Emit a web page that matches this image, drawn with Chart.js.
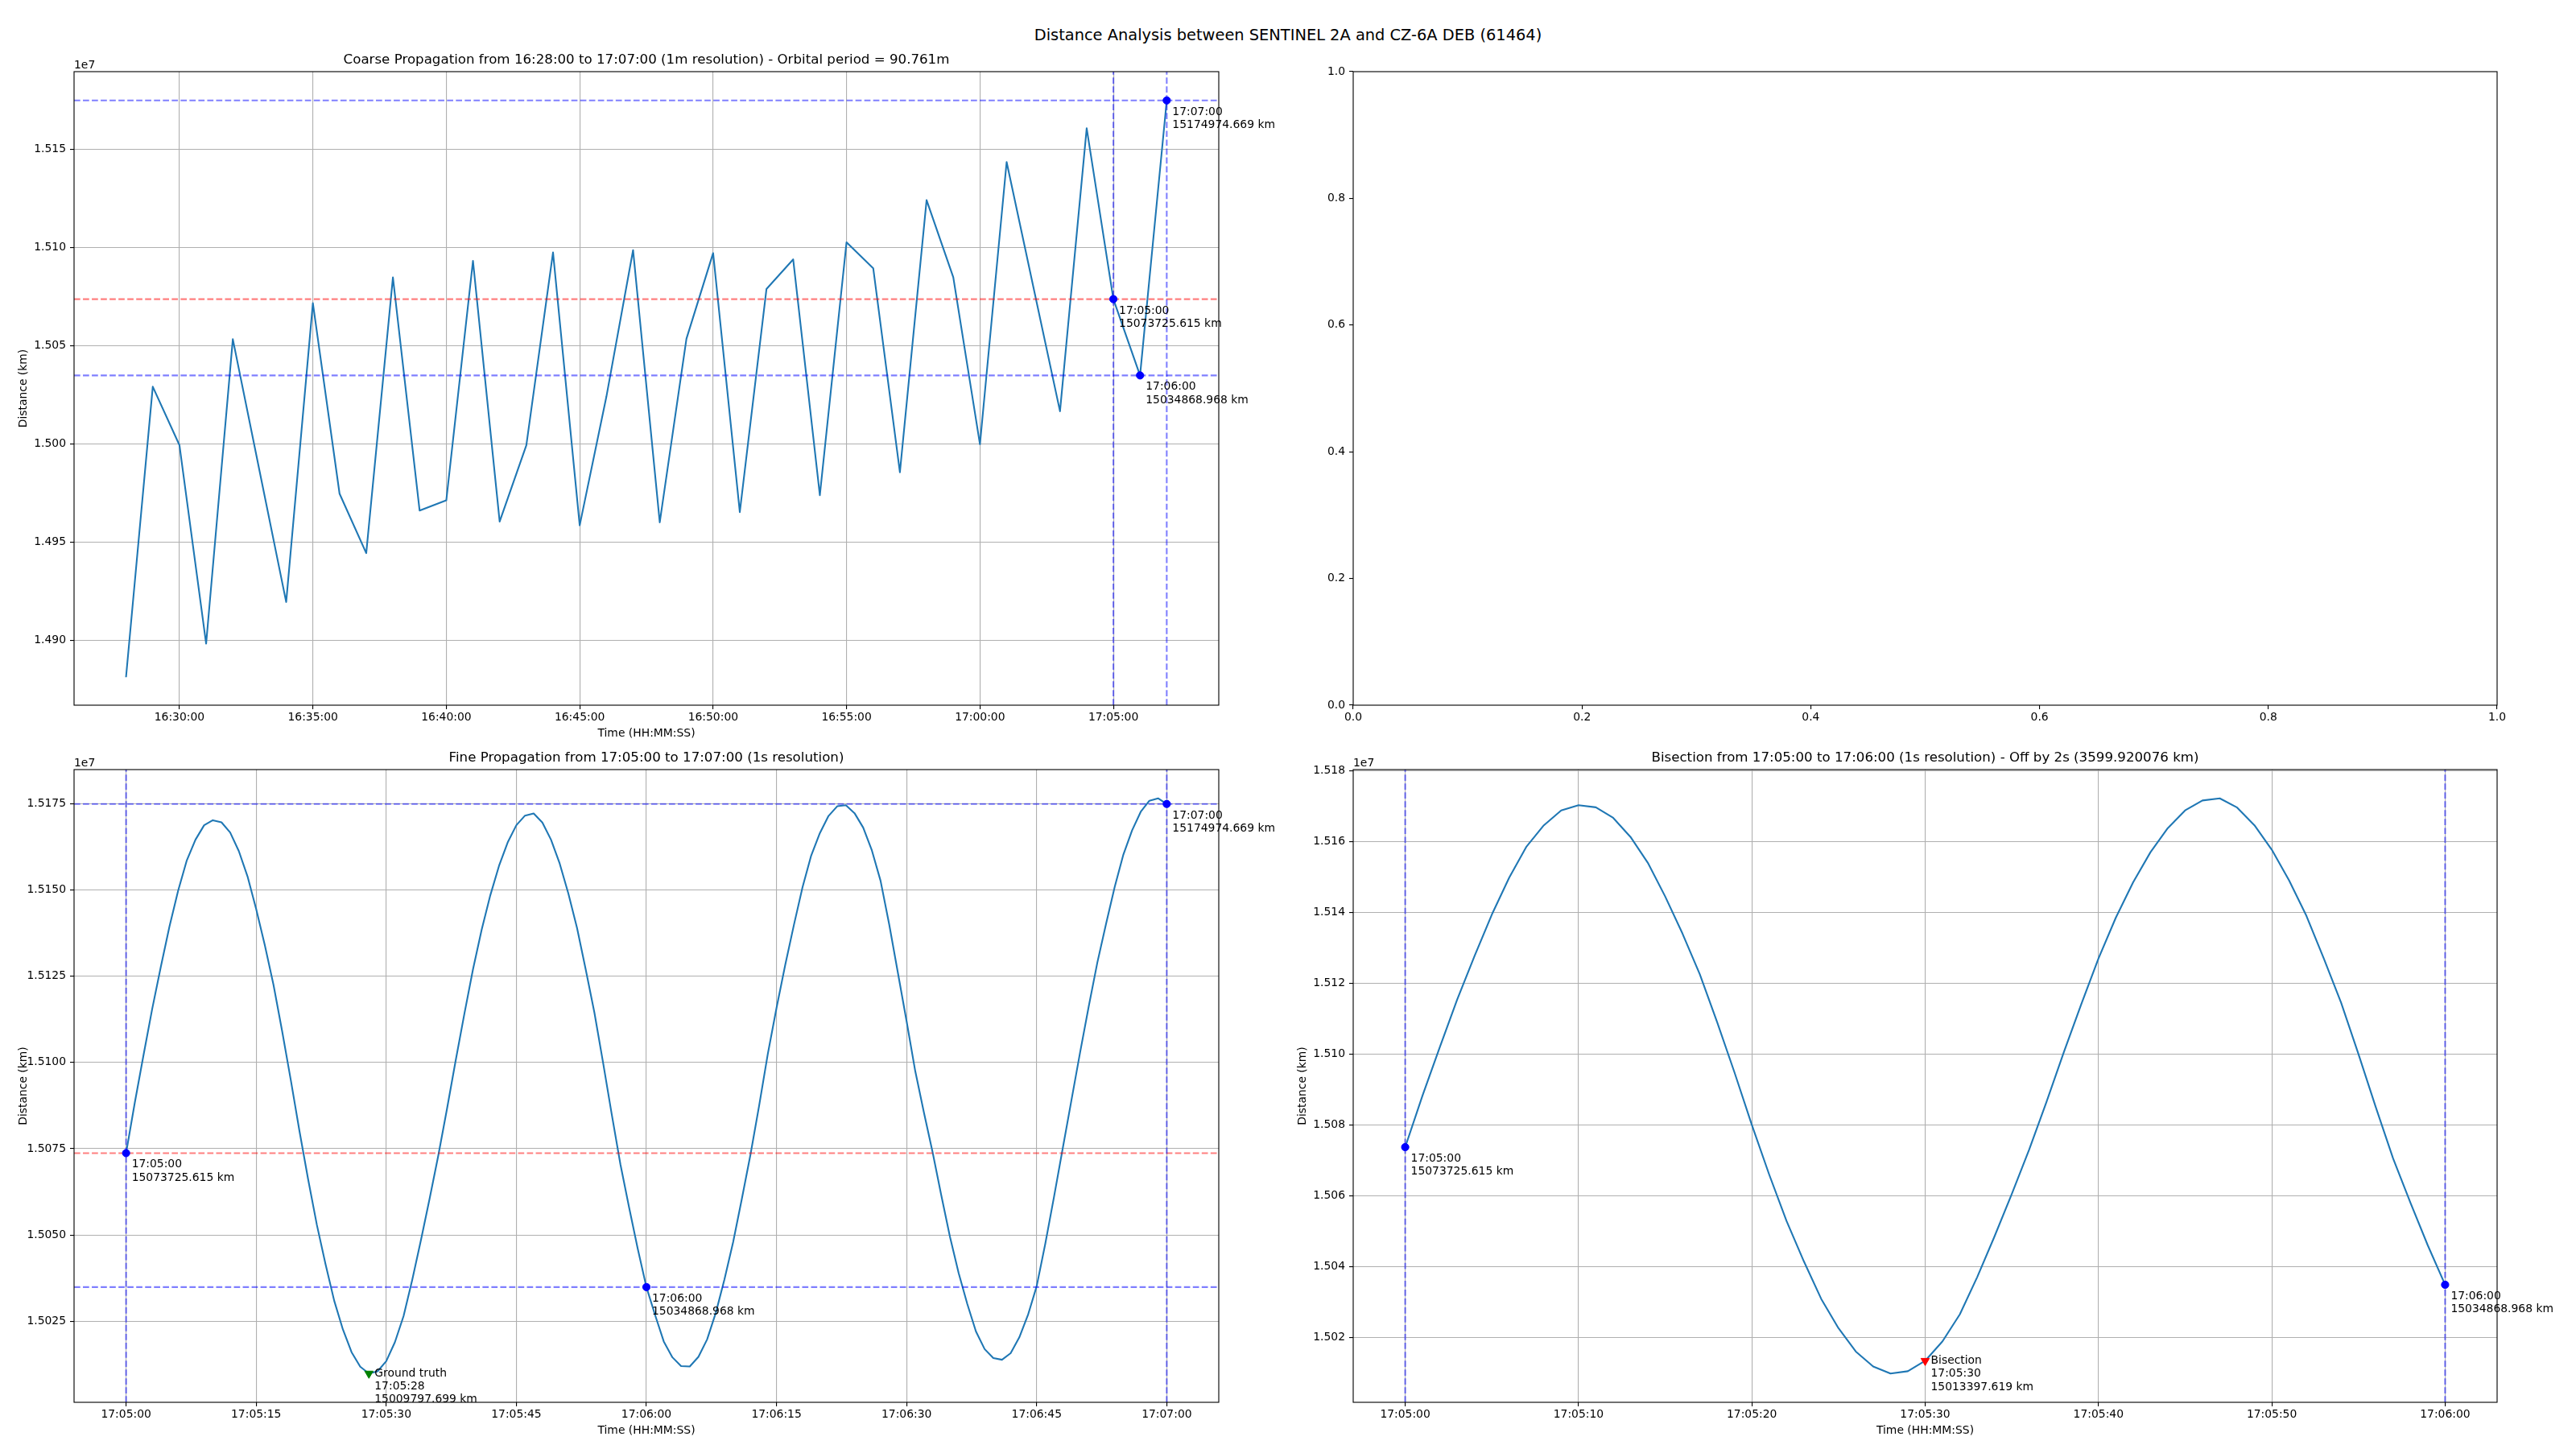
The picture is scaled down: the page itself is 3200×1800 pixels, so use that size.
<!DOCTYPE html>
<html>
<head>
<meta charset="utf-8">
<script src="https://cdn.jsdelivr.net/npm/chart.js@4.4.1/dist/chart.umd.min.js"></script>
<style>
html,body{margin:0;padding:0;background:#fff;width:3200px;height:1800px;overflow:hidden;}
canvas{position:absolute;left:0;top:0;}
#sup{position:absolute;left:0;top:33.6px;width:3200px;text-align:center;font-family:'DejaVu Sans',sans-serif;font-size:19.4px;line-height:1;color:#000;white-space:nowrap;}
</style>
</head>
<body>
<div id="sup">Distance Analysis between SENTINEL 2A and CZ-6A DEB (61464)</div>
<canvas id="cCoarse" width="3200" height="1800"></canvas>
<canvas id="cEmpty" width="3200" height="1800"></canvas>
<canvas id="cFine" width="3200" height="1800"></canvas>
<canvas id="cBis" width="3200" height="1800"></canvas>
<script>
// ---------------- DATA ----------------
const coarseTimes = [
  '16:28:00','16:29:00','16:30:00','16:31:00','16:32:00','16:33:00','16:34:00','16:35:00','16:36:00','16:37:00',
  '16:38:00','16:39:00','16:40:00','16:41:00','16:42:00','16:43:00','16:44:00','16:45:00','16:46:00','16:47:00',
  '16:48:00','16:49:00','16:50:00','16:51:00','16:52:00','16:53:00','16:54:00','16:55:00','16:56:00','16:57:00',
  '16:58:00','16:59:00','17:00:00','17:01:00','17:02:00','17:03:00','17:04:00','17:05:00','17:06:00','17:07:00'
];
const coarseDistances = [
  14881500, 15029100, 14999300, 14898200, 15053300, 14986300, 14919400, 15071700, 14974600, 14944300,
  15084800, 14966000, 14971200, 15093200, 14960400, 14999300, 15097500, 14958450, 15024000, 15098700,
  14960000, 15053500, 15097200, 14965200, 15078900, 15094000, 14973800, 15102700, 15089500, 14985500,
  15124200, 15084900, 14999800, 15143600, 15080000, 15016600, 15160800, 15073725.615, 15034868.968, 15174974.669
];

const fineStart = '17:05:00';   // 1 s resolution
const fineDistances = [
  15073725.615, 15088300, 15102000, 15115400, 15127700, 15139400, 15149800, 15158600, 15164600, 15168800,
  15170260, 15169660, 15166700, 15161300, 15154000, 15144500, 15134000, 15122500, 15109000, 15094800,
  15080000, 15066000, 15052900, 15041500, 15030900, 15022600, 15016000, 15011800, 15009797.699, 15010450,
  15013397.619, 15018900, 15026500, 15037000, 15048500, 15060500, 15073000, 15086500, 15100500, 15114000,
  15127000, 15138500, 15148500, 15157000, 15163800, 15168800, 15171600, 15172200, 15169600, 15164600,
  15157700, 15149000, 15139000, 15127000, 15114500, 15100000, 15085000, 15070500, 15058000, 15046000,
  15034868.968, 15026800, 15019100, 15014500, 15011950, 15011850, 15014650, 15019700, 15027400, 15037100,
  15047900, 15060400, 15073300, 15087500, 15102500, 15115800, 15128200, 15139800, 15150800, 15160000,
  15166500, 15171500, 15174300, 15174600, 15172300, 15168100, 15161500, 15152700, 15140000, 15126000,
  15112000, 15097500, 15085500, 15074000, 15061500, 15049500, 15039000, 15030000, 15022000, 15016900,
  15014300, 15013800, 15015700, 15020300, 15026800, 15035100, 15047500, 15061000, 15075000, 15088900,
  15102800, 15116200, 15129000, 15140200, 15150900, 15160300, 15167300, 15172700, 15175900, 15176600,
  15174974.669
];
const bisectionCount = 61;  // 17:05:00 .. 17:06:00 of the fine propagation

const keyTimes = ['17:05:00', '17:06:00', '17:07:00'];
const keyDistances = [15073725.615, 15034868.968, 15174974.669];
const refLineColors = ['rgba(255,0,0,0.5)', 'rgba(0,0,255,0.5)', 'rgba(0,0,255,0.5)'];
const groundTruthTime = '17:05:28';
const groundTruthDistance = 15009797.699;
const bisectionTime = '17:05:30';
const bisectionDistance = 15013397.619;

const coarseXTicks = ['16:30:00','16:35:00','16:40:00','16:45:00','16:50:00','16:55:00','17:00:00','17:05:00'];
const coarseYTicks = ['1.490','1.495','1.500','1.505','1.510','1.515'];
const fineXTicks = ['17:05:00','17:05:15','17:05:30','17:05:45','17:06:00','17:06:15','17:06:30','17:06:45','17:07:00'];
const fineYTicks = ['1.5025','1.5050','1.5075','1.5100','1.5125','1.5150','1.5175'];
const bisXTicks = ['17:05:00','17:05:10','17:05:20','17:05:30','17:05:40','17:05:50','17:06:00'];
const bisYTicks = ['1.502','1.504','1.506','1.508','1.510','1.512','1.514','1.516','1.518'];
const emptyTicks = ['0.0','0.2','0.4','0.6','0.8','1.0'];

// ---------------- HELPERS ----------------
const toSec = s => { const p = s.split(':').map(Number); return p[0]*3600 + p[1]*60 + p[2]; };
const toHMS = v => { v = Math.round(v); const h = Math.floor(v/3600), m = Math.floor((v%3600)/60), s = v%60;
  return [h,m,s].map(n => String(n).padStart(2,'0')).join(':'); };
const padRange = arr => { const mn = Math.min(...arr), mx = Math.max(...arr), r = mx - mn; return [mn - 0.05*r, mx + 0.05*r]; };
const fineTimes = fineDistances.map((_, i) => toHMS(toSec(fineStart) + i));
const bisTimes = fineTimes.slice(0, bisectionCount);
const bisDistances = fineDistances.slice(0, bisectionCount);
const pts = (times, vals) => times.map((t, i) => ({x: toSec(t), y: vals[i]}));
const kmLabel = v => v.toFixed(3) + ' km';

Chart.defaults.font.family = "'DejaVu Sans', sans-serif";
Chart.defaults.font.size = 13.9;
Chart.defaults.color = '#000';

const FONT = "13.9px 'DejaVu Sans', sans-serif";
const DASH = [7.7, 3.33];
const LW = 2.08;

function extras(cfg) {
  return {
    id: 'extras',
    afterDatasetDraw(chart, args) {
      if (args.index !== 0) return;
      const {ctx, chartArea: a, scales: {x, y}} = chart;
      ctx.save();
      ctx.beginPath(); ctx.rect(a.left, a.top, a.right - a.left, a.bottom - a.top); ctx.clip();
      ctx.lineWidth = LW; ctx.setLineDash(DASH); ctx.lineCap = 'butt';
      (cfg.hLines || []).forEach(h => {
        const py = y.getPixelForValue(h.v);
        ctx.strokeStyle = h.c; ctx.beginPath(); ctx.moveTo(a.left, py); ctx.lineTo(a.right, py); ctx.stroke();
      });
      (cfg.vLines || []).forEach(v => {
        const px = x.getPixelForValue(toSec(v.t));
        ctx.strokeStyle = v.c; ctx.beginPath(); ctx.moveTo(px, a.bottom); ctx.lineTo(px, a.top); ctx.stroke();
      });
      ctx.restore();
    },
    afterDraw(chart) {
      const {ctx, chartArea: a, scales: {x, y}} = chart;
      ctx.save();
      ctx.strokeStyle = '#000'; ctx.lineWidth = 1.11; ctx.setLineDash([]);
      ctx.strokeRect(a.left, a.top, a.right - a.left, a.bottom - a.top);
      ctx.fillStyle = '#000'; ctx.font = FONT; ctx.textAlign = 'left'; ctx.textBaseline = 'alphabetic';
      if (cfg.offsetText) ctx.fillText(cfg.offsetText, a.left, a.top - 4);
      (cfg.notes || []).forEach(n => {
        const px = x.getPixelForValue(toSec(n.t)), py = y.getPixelForValue(n.v);
        let by = n.up ? py + 3.4 : py + 18;
        n.lines.forEach(line => { ctx.fillText(line, px + 7, by); by += 16.4; });
      });
      ctx.restore();
    }
  };
}

function makeChart(id, box, o) {
  const Wy = 80, Hx = 50, titleH = o.title ? 24 : 0;
  const datasets = [];
  if (o.line) datasets.push({
    type: 'line', data: o.line, borderColor: '#1f77b4', borderWidth: LW, pointRadius: 0, pointHoverRadius: 0,
    tension: 0, borderJoinStyle: 'round', borderCapStyle: 'square', fill: false, order: 1
  });
  (o.markers || []).forEach(m => datasets.push({
    type: 'line', showLine: false, data: m.data, pointStyle: m.style, pointRotation: m.rot || 0,
    pointRadius: m.r, pointHoverRadius: m.r, pointBackgroundColor: m.color, pointBorderColor: m.color,
    pointBorderWidth: 1, order: 0
  }));
  const scale = (isX) => {
    const labels = isX ? o.xLabels : o.yLabels;
    const vals = isX ? o.xTickVals : o.yTickVals;
    return {
      type: 'linear', position: isX ? 'bottom' : 'left', bounds: 'data',
      min: (isX ? o.xr : o.yr)[0], max: (isX ? o.xr : o.yr)[1],
      afterFit: sc => { if (isX) sc.height = Hx; else sc.width = Wy; },
      afterBuildTicks: sc => { sc.ticks = vals.map(v => ({value: v})); },
      ticks: { autoSkip: false, maxRotation: 0, minRotation: 0, padding: isX ? 2.4 : 5, color: '#000',
               callback: (v, i) => labels[i] },
      grid: { color: '#b0b0b0', lineWidth: 1.11, drawOnChartArea: o.grid, drawTicks: true, tickLength: 5,
              tickColor: '#000', tickWidth: 1.11 },
      border: { display: false },
      title: { display: !!(isX ? o.xTitle : o.yTitle), text: (isX ? o.xTitle : o.yTitle) || '', color: '#000',
               font: { size: 13.9 }, padding: isX ? {top: 0, bottom: 6.67} : {top: 8.67, bottom: 0} }
    };
  };
  return new Chart(document.getElementById(id), {
    type: 'line',
    data: { datasets },
    options: {
      responsive: false, animation: false, devicePixelRatio: 1, events: [],
      layout: { padding: { left: box.L - Wy, top: box.T - titleH, right: 3200 - box.R, bottom: 1800 - box.B - Hx } },
      plugins: {
        legend: { display: false }, tooltip: { enabled: false },
        title: { display: !!o.title, text: o.title || '', fullSize: false, color: '#000',
                 font: { size: 16.67, weight: 'normal' }, padding: { top: 0, bottom: 4 } }
      },
      scales: { x: scale(true), y: scale(false) }
    },
    plugins: [extras(o.extras || {})]
  });
}

const ySecs = labels => labels.map(l => parseFloat(l) * 1e7);
const blue = refLineColors[1];
const keyNotes = (idx) => idx.map(i => ({t: keyTimes[i], v: keyDistances[i], lines: [keyTimes[i], kmLabel(keyDistances[i])]}));
const DOT = 4.6, TRI = 6;

// Coarse propagation
makeChart('cCoarse', {L: 92, T: 89, R: 1514, B: 876}, {
  title: 'Coarse Propagation from 16:28:00 to 17:07:00 (1m resolution) - Orbital period = 90.761m',
  line: pts(coarseTimes, coarseDistances),
  markers: [{data: pts(keyTimes, keyDistances), style: 'circle', r: DOT, color: '#0000ff'}],
  xr: padRange(coarseTimes.map(toSec)), yr: padRange(coarseDistances),
  xTickVals: coarseXTicks.map(toSec), xLabels: coarseXTicks,
  yTickVals: ySecs(coarseYTicks), yLabels: coarseYTicks,
  grid: true, xTitle: 'Time (HH:MM:SS)', yTitle: 'Distance (km)',
  extras: { offsetText: '1e7',
    hLines: [{v: keyDistances[2], c: blue}, {v: keyDistances[0], c: refLineColors[0]}, {v: keyDistances[1], c: blue}],
    vLines: [{t: keyTimes[0], c: blue}, {t: keyTimes[2], c: blue}],
    notes: keyNotes([0, 1, 2]) }
});

// Empty axes
makeChart('cEmpty', {L: 1681, T: 89, R: 3102, B: 876}, {
  xr: [0, 1], yr: [0, 1],
  xTickVals: emptyTicks.map(Number), xLabels: emptyTicks,
  yTickVals: emptyTicks.map(Number), yLabels: emptyTicks,
  grid: false
});

// Fine propagation
makeChart('cFine', {L: 92, T: 956, R: 1514, B: 1742}, {
  title: 'Fine Propagation from 17:05:00 to 17:07:00 (1s resolution)',
  line: pts(fineTimes, fineDistances),
  markers: [
    {data: pts(keyTimes, keyDistances), style: 'circle', r: DOT, color: '#0000ff'},
    {data: pts([groundTruthTime], [groundTruthDistance]), style: 'triangle', rot: 180, r: TRI, color: '#008000'}
  ],
  xr: padRange(fineTimes.map(toSec)), yr: padRange(fineDistances),
  xTickVals: fineXTicks.map(toSec), xLabels: fineXTicks,
  yTickVals: ySecs(fineYTicks), yLabels: fineYTicks,
  grid: true, xTitle: 'Time (HH:MM:SS)', yTitle: 'Distance (km)',
  extras: { offsetText: '1e7',
    hLines: [{v: keyDistances[2], c: blue}, {v: keyDistances[0], c: refLineColors[0]}, {v: keyDistances[1], c: blue}],
    vLines: [{t: keyTimes[0], c: blue}, {t: keyTimes[2], c: blue}],
    notes: keyNotes([0, 1, 2]).concat([{t: groundTruthTime, v: groundTruthDistance, up: true,
      lines: ['Ground truth', groundTruthTime, kmLabel(groundTruthDistance)]}]) }
});

// Bisection
makeChart('cBis', {L: 1681, T: 956, R: 3102, B: 1742}, {
  title: 'Bisection from 17:05:00 to 17:06:00 (1s resolution) - Off by 2s (3599.920076 km)',
  line: pts(bisTimes, bisDistances),
  markers: [
    {data: pts(keyTimes.slice(0, 2), keyDistances.slice(0, 2)), style: 'circle', r: DOT, color: '#0000ff'},
    {data: pts([bisectionTime], [bisectionDistance]), style: 'triangle', rot: 180, r: TRI, color: '#ff0000'}
  ],
  xr: padRange(bisTimes.map(toSec)), yr: padRange(bisDistances),
  xTickVals: bisXTicks.map(toSec), xLabels: bisXTicks,
  yTickVals: ySecs(bisYTicks), yLabels: bisYTicks,
  grid: true, xTitle: 'Time (HH:MM:SS)', yTitle: 'Distance (km)',
  extras: { offsetText: '1e7',
    vLines: [{t: keyTimes[0], c: blue}, {t: keyTimes[1], c: blue}],
    notes: keyNotes([0, 1]).concat([{t: bisectionTime, v: bisectionDistance, up: true,
      lines: ['Bisection', bisectionTime, kmLabel(bisectionDistance)]}]) }
});
</script>
</body>
</html>
